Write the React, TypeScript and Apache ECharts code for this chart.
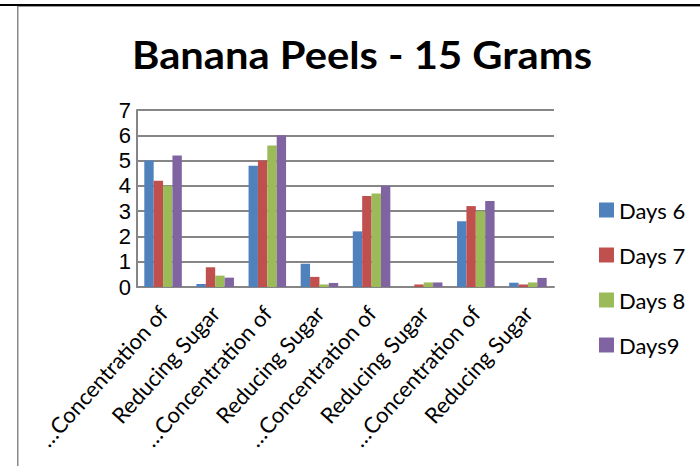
import React, { useEffect, useRef } from "react";
import * as echarts from "echarts";

const categories = [
  "…Concentration of",
  "Reducing Sugar",
  "…Concentration of",
  "Reducing Sugar",
  "…Concentration of",
  "Reducing Sugar",
  "…Concentration of",
  "Reducing Sugar",
];

const seriesNames = ["Days 6", "Days 7", "Days 8", "Days9"];
const days6 = [5.0, 0.12, 4.8, 0.92, 2.2, 0, 2.6, 0.17];
const days7 = [4.2, 0.78, 5.0, 0.4, 3.6, 0.1, 3.2, 0.1];
const days8 = [4.0, 0.45, 5.6, 0.1, 3.7, 0.18, 3.0, 0.18];
const days9 = [5.2, 0.37, 6.0, 0.16, 4.0, 0.18, 3.4, 0.36];
const colors = ["#4F81BD", "#C0504D", "#9BBB59", "#8064A2"];
const yTicks = [0, 1, 2, 3, 4, 5, 6, 7];

export default function App() {
  const ref = useRef<HTMLDivElement>(null);

  useEffect(() => {
    if (!ref.current) return;
    const chart = echarts.init(ref.current, null, { renderer: "svg" });
    const values = [days6, days7, days8, days9];
    chart.setOption({
      animation: false,
      backgroundColor: "#ffffff",
      legend: {
        orient: "vertical",
        left: 594,
        top: 194,
        itemWidth: 15,
        itemHeight: 15,
        itemGap: 23,
        icon: "rect",
        textStyle: {
          fontFamily: "Lato",
          fontSize: 22,
          color: "#000000",
        },
        data: seriesNames,
      },
      grid: {
        left: 137,
        right: 146,
        top: 110,
        bottom: 179,
        containLabel: false,
      },
      xAxis: {
        type: "category",
        data: categories,
        axisLine: { lineStyle: { color: "#868686", width: 2 } },
        axisTick: { show: false },
        axisLabel: {
          interval: 0,
          rotate: 48,
          margin: 22,
          fontFamily: "Lato",
          fontSize: 22,
          color: "#000000",
        },
      },
      yAxis: {
        type: "value",
        min: 0,
        max: 7,
        interval: 1,
        axisLine: { show: true, lineStyle: { color: "#868686", width: 2 } },
        axisTick: { show: false },
        splitLine: { lineStyle: { color: "#868686", width: 2 } },
        axisLabel: {
          margin: 6,
          fontFamily: "Liberation Sans",
          fontSize: 22,
          color: "#000000",
          formatter: (v: number) => (yTicks.includes(v) ? String(v) : ""),
        },
      },
      series: seriesNames.map((name, i) => ({
        name,
        type: "bar",
        data: values[i],
        barGap: "0%",
        barCategoryGap: "28%",
        itemStyle: { color: colors[i] },
      })),
      graphic: [
        { type: "rect", shape: { x: 0, y: 4, width: 700, height: 2 }, style: { fill: "#000000" }, silent: true },
        { type: "rect", shape: { x: 17, y: 6, width: 683, height: 1 }, style: { fill: "#9a9a9a" }, silent: true },
        { type: "rect", shape: { x: 17, y: 6, width: 1.5, height: 460 }, style: { fill: "#8a8a8a" }, silent: true },
        {
          type: "text",
          x: 362,
          y: 54,
          scaleX: 1.07,
          silent: true,
          style: {
            text: "Banana Peels - 15 Grams",
            fontFamily: "Lato",
            fontWeight: "bold",
            fontSize: 39,
            fill: "#000000",
            align: "center",
            verticalAlign: "middle",
          },
        },
      ],
    });
    return () => chart.dispose();
  }, []);

  return (
    <div
      ref={ref}
      style={{ position: "absolute", left: 0, top: 0, width: 700, height: 466 }}
    />
  );
}
